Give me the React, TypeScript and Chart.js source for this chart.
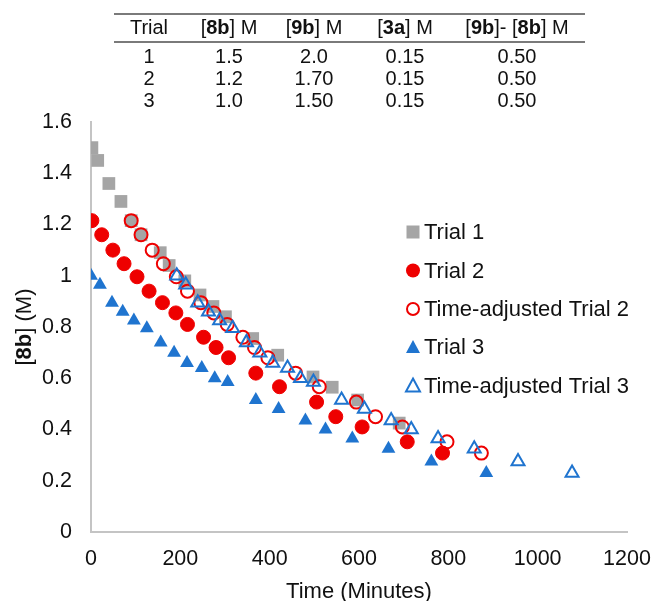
import React, { useEffect, useRef } from 'react';
import { Chart, registerables } from 'chart.js';

Chart.register(...registerables);

// ---------- data ----------
const trial1X = [2, 15, 40, 67, 90, 112, 155, 175, 210, 244, 273, 301, 362, 418, 497, 540, 597, 690];
const trial1Y = [1.5, 1.45, 1.36, 1.29, 1.215, 1.16, 1.09, 1.04, 0.98, 0.925, 0.88, 0.84, 0.755, 0.69, 0.605, 0.565, 0.515, 0.425];

const trial2X = [2, 24, 49, 74, 103, 130, 160, 190, 216, 252, 280, 308, 369, 422, 505, 548, 607, 708, 787];
const trial2Y = [1.215, 1.16, 1.1, 1.047, 0.996, 0.94, 0.895, 0.855, 0.81, 0.76, 0.72, 0.68, 0.62, 0.567, 0.507, 0.45, 0.41, 0.352, 0.308];

const trial2AdjX = [90, 112, 137, 162, 191, 216, 246, 275, 305, 340, 366, 396, 458, 511, 594, 637, 697, 797, 874];
const trial2AdjY = [1.215, 1.16, 1.1, 1.047, 0.996, 0.94, 0.895, 0.855, 0.81, 0.76, 0.72, 0.68, 0.62, 0.567, 0.507, 0.45, 0.41, 0.352, 0.308];

const trial3X = [0, 20, 47, 71, 96, 125, 156, 186, 215, 248, 277, 306, 369, 420, 480, 525, 585, 666, 762, 885];
const trial3Y = [1.0, 0.965, 0.895, 0.86, 0.825, 0.795, 0.74, 0.7, 0.66, 0.64, 0.6, 0.585, 0.515, 0.48, 0.435, 0.4, 0.365, 0.325, 0.275, 0.23];

const trial3AdjX = [192, 212, 239, 263, 288, 317, 348, 378, 407, 440, 469, 498, 561, 612, 672, 717, 777, 858, 956, 1077];
const trial3AdjY = [1.0, 0.965, 0.895, 0.86, 0.825, 0.795, 0.74, 0.7, 0.66, 0.64, 0.6, 0.585, 0.515, 0.48, 0.435, 0.4, 0.365, 0.325, 0.275, 0.23];

const seriesNames = ['Trial 1', 'Trial 2', 'Time-adjusted Trial 2', 'Trial 3', 'Time-adjusted Trial 3'];
const xTickValues = [0, 200, 400, 600, 800, 1000, 1200];
const yTickValues = [0, 0.2, 0.4, 0.6, 0.8, 1, 1.2, 1.4, 1.6];

const tableRows = [
  ['1', '1.5', '2.0', '0.15', '0.50'],
  ['2', '1.2', '1.70', '0.15', '0.50'],
  ['3', '1.0', '1.50', '0.15', '0.50'],
];

// ---------- styles ----------
const FONT = '"Liberation Sans", Arial, Helvetica, sans-serif';
const GRAY = '#A5A5A5';
const RED = '#EE0000';
const BLUE = '#1F74CF';
const TEXT = '#111111';
const AXIS = '#C4C4C4';

const W = 654;
const H = 601;

const pts = (xs: number[], ys: number[]) => xs.map((x, i) => ({ x, y: ys[i] }));

type Seg = { t: string; b?: boolean };

function drawRich(ctx: CanvasRenderingContext2D, segs: Seg[], cx: number, cy: number, size: number) {
  let total = 0;
  const widths = segs.map((s) => {
    ctx.font = `${s.b ? 'bold ' : ''}${size}px ${FONT}`;
    const w = ctx.measureText(s.t).width;
    total += w;
    return w;
  });
  let x = cx - total / 2;
  ctx.textAlign = 'left';
  segs.forEach((s, i) => {
    ctx.font = `${s.b ? 'bold ' : ''}${size}px ${FONT}`;
    ctx.fillText(s.t, x, cy);
    x += widths[i];
  });
}

function drawMarker(ctx: CanvasRenderingContext2D, kind: string, x: number, y: number) {
  ctx.save();
  ctx.lineWidth = 2;
  if (kind === 'square') {
    ctx.fillStyle = GRAY;
    ctx.fillRect(x - 6.5, y - 6.5, 13, 13);
  } else if (kind === 'circle') {
    ctx.fillStyle = RED;
    ctx.beginPath();
    ctx.arc(x, y, 7, 0, Math.PI * 2);
    ctx.fill();
  } else if (kind === 'ocircle') {
    ctx.strokeStyle = RED;
    ctx.beginPath();
    ctx.arc(x, y, 6, 0, Math.PI * 2);
    ctx.stroke();
  } else if (kind === 'tri' || kind === 'otri') {
    ctx.beginPath();
    ctx.moveTo(x, y - 7);
    ctx.lineTo(x + 7, y + 6);
    ctx.lineTo(x - 7, y + 6);
    ctx.closePath();
    if (kind === 'tri') {
      ctx.fillStyle = BLUE;
      ctx.fill();
    } else {
      ctx.strokeStyle = BLUE;
      ctx.stroke();
    }
  }
  ctx.restore();
}

const overlayPlugin = {
  id: 'overlay',
  afterDraw(chart: any) {
    const ctx: CanvasRenderingContext2D = chart.ctx;
    const area = chart.chartArea;
    ctx.save();
    ctx.fillStyle = TEXT;
    ctx.textBaseline = 'alphabetic';
    // x axis title
    drawRich(ctx, [{ t: 'Time (Minutes)' }], (area.left + area.right) / 2, 598, 22);
    // y axis title
    ctx.save();
    ctx.translate(31, (area.top + area.bottom) / 2);
    ctx.rotate(-Math.PI / 2);
    drawRich(ctx, [{ t: '[' }, { t: '8b', b: true }, { t: '] (M)' }], 0, 0, 22);
    ctx.restore();

    // legend
    const kinds = ['square', 'circle', 'ocircle', 'tri', 'otri'];
    const rowsY = [232, 270.5, 309, 347, 385.5];
    ctx.textBaseline = 'middle';
    ctx.font = `22px ${FONT}`;
    ctx.textAlign = 'left';
    seriesNames.forEach((name, i) => {
      drawMarker(ctx, kinds[i], 413, rowsY[i]);
      ctx.fillStyle = TEXT;
      ctx.fillText(name, 424, rowsY[i] + 1);
    });
    ctx.restore();
  },
};

function Cell({ cx, top, children }: { cx: number; top: number; children: React.ReactNode }) {
  return (
    <div
      style={{
        position: 'absolute',
        left: cx - 100,
        width: 200,
        top,
        textAlign: 'center',
        fontFamily: FONT,
        fontSize: 20,
        lineHeight: '20px',
        color: TEXT,
        whiteSpace: 'nowrap',
      }}
    >
      {children}
    </div>
  );
}

export default function App() {
  const ref = useRef<HTMLCanvasElement | null>(null);

  useEffect(() => {
    document.body.style.margin = '0';
    const canvas = ref.current;
    if (!canvas) return;
    const chart = new Chart(canvas, {
      type: 'scatter',
      data: {
        datasets: [
          {
            label: seriesNames[0],
            data: pts(trial1X, trial1Y),
            pointStyle: 'rect',
            pointRadius: 9,
            backgroundColor: GRAY,
            borderColor: GRAY,
            borderWidth: 0,
            order: 5,
          },
          {
            label: seriesNames[1],
            data: pts(trial2X, trial2Y),
            pointStyle: 'circle',
            pointRadius: 7,
            backgroundColor: RED,
            borderColor: RED,
            borderWidth: 1,
            order: 4,
          },
          {
            label: seriesNames[2],
            data: pts(trial2AdjX, trial2AdjY),
            pointStyle: 'circle',
            pointRadius: 6.5,
            backgroundColor: 'rgba(0,0,0,0)',
            borderColor: RED,
            borderWidth: 2,
            order: 2,
          },
          {
            label: seriesNames[3],
            data: pts(trial3X, trial3Y),
            pointStyle: 'triangle',
            pointRadius: 8,
            backgroundColor: BLUE,
            borderColor: BLUE,
            borderWidth: 0,
            order: 3,
          },
          {
            label: seriesNames[4],
            data: pts(trial3AdjX, trial3AdjY),
            pointStyle: 'triangle',
            pointRadius: 7.5,
            backgroundColor: 'rgba(0,0,0,0)',
            borderColor: BLUE,
            borderWidth: 2,
            order: 1,
          },
        ],
      },
      options: {
        responsive: false,
        animation: false,
        events: [],
        layout: { padding: { top: 122, right: 27, bottom: 0, left: 0 } },
        plugins: {
          legend: { display: false },
          tooltip: { enabled: false },
          title: { display: false },
        },
        scales: {
          x: {
            type: 'linear',
            min: 0,
            max: 1200,
            afterBuildTicks: (scale: any) => {
              scale.ticks = xTickValues.map((v) => ({ value: v }));
            },
            afterFit: (scale: any) => {
              scale.height = 69;
              scale.paddingLeft = 0;
              scale.paddingRight = 0;
            },
            grid: { display: false, drawTicks: false },
            border: { display: true, color: AXIS, width: 2 },
            ticks: {
              padding: 14,
              color: TEXT,
              font: { family: FONT, size: 21.5 },
              maxRotation: 0,
              callback: (v: any) => String(v),
            },
          },
          y: {
            type: 'linear',
            min: 0,
            max: 1.6,
            afterBuildTicks: (scale: any) => {
              scale.ticks = yTickValues.map((v) => ({ value: v }));
            },
            afterFit: (scale: any) => {
              scale.width = 91;
              scale.paddingTop = 0;
              scale.paddingBottom = 0;
            },
            grid: { display: false, drawTicks: false },
            border: { display: true, color: AXIS, width: 2 },
            ticks: {
              padding: 19,
              color: TEXT,
              font: { family: FONT, size: 21.5 },
              callback: (v: any) => String(Math.round(Number(v) * 10) / 10),
            },
          },
        },
      },
      plugins: [overlayPlugin],
    } as any);
    return () => chart.destroy();
  }, []);

  const colX = [149, 229, 314, 405, 517];
  const headerTop = 17;
  const rowTops = [46, 68, 90];

  return (
    <div style={{ position: 'relative', width: W, height: H, background: '#fff', overflow: 'hidden' }}>
      <canvas ref={ref} width={W} height={H} style={{ position: 'absolute', left: 0, top: 0, width: W, height: H }} />
      <div style={{ position: 'absolute', left: 114, top: 13, width: 471, height: 2, background: '#7a7a7a' }} />
      <div style={{ position: 'absolute', left: 114, top: 41, width: 471, height: 2, background: '#7a7a7a' }} />
      <Cell cx={colX[0]} top={headerTop}>Trial</Cell>
      <Cell cx={colX[1]} top={headerTop}>[<b>8b</b>] M</Cell>
      <Cell cx={colX[2]} top={headerTop}>[<b>9b</b>] M</Cell>
      <Cell cx={colX[3]} top={headerTop}>[<b>3a</b>] M</Cell>
      <Cell cx={colX[4]} top={headerTop}>[<b>9b</b>]- [<b>8b</b>] M</Cell>
      {tableRows.map((row, r) =>
        row.map((v, c) => (
          <Cell key={`${r}-${c}`} cx={colX[c]} top={rowTops[r]}>
            {v}
          </Cell>
        ))
      )}
    </div>
  );
}
